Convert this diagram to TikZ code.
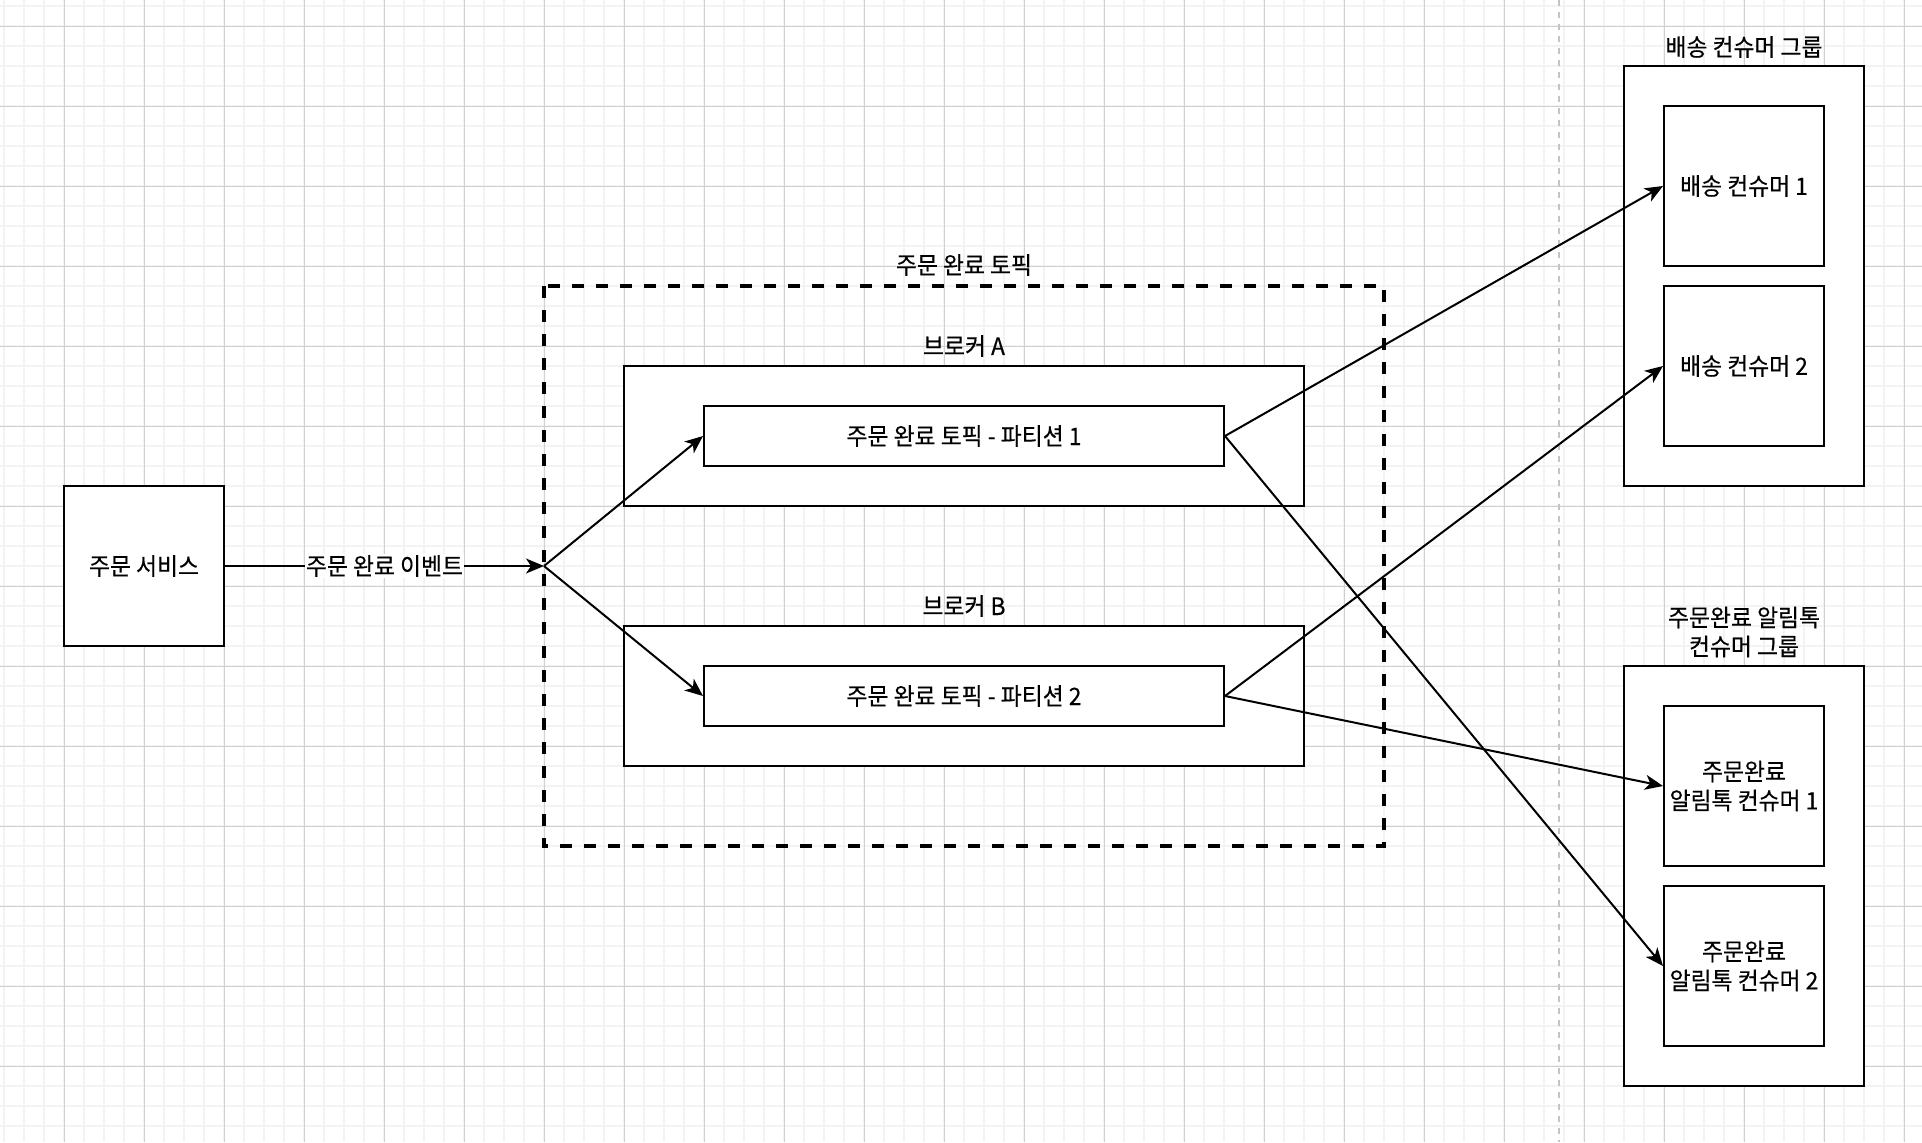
\documentclass[tikz,border=0pt]{standalone}
\usepackage{fontspec}
\setmainfont{Noto Sans CJK KR}[FakeStretch=0.95, FakeBold=0.35]
\usetikzlibrary{arrows.meta}
\definecolor{minorgrid}{HTML}{F3F3F3}
\definecolor{majorgrid}{HTML}{D0D0D0}
\definecolor{sepline}{HTML}{C4C4C4}
\tikzset{
  box/.style={draw=black, line width=1pt, fill=white, inner sep=0pt, align=center, font=\fontsize{12}{14.5}\selectfont},
  lbl/.style={inner sep=0pt, align=center, font=\fontsize{12}{14.5}\selectfont},
  topicbox/.style={draw=black, line width=2pt, dash pattern=on 6pt off 6pt},
  conn/.style={draw=black, line width=1pt, -{Stealth[length=9pt, width=7.5pt, inset=2.5pt]}},
  plain/.style={draw=black, line width=1pt},
}
\begin{document}
\begin{tikzpicture}[x=1pt, y=-1pt]
\useasboundingbox (0,0) rectangle (961,571);
\fill[white] (0,0) rectangle (961,571);
% grid
\foreach \gx in {2,12,...,962} \draw[minorgrid, line width=1pt] (\gx,0) -- (\gx,571);
\foreach \gy in {3,13,...,573} \draw[minorgrid, line width=1pt] (0,\gy) -- (961,\gy);
\foreach \gx in {32,72,...,952} \draw[majorgrid, line width=0.5pt] (\gx,0) -- (\gx,571);
\foreach \gy in {13,53,...,573} \draw[majorgrid, line width=0.5pt] (0,\gy) -- (961,\gy);
% separator
\coordinate (septop) at (779.5,0);
\coordinate (sepbot) at (779.5,571);
\draw[sepline, line width=1pt, dash pattern=on 3pt off 3pt] (septop) -- (sepbot);

% order service
\node[box, minimum width=80pt, minimum height=80pt] (svc) at (72,283) {주문 서비스};

% topic dashed box
\draw[topicbox] (272,143) rectangle (692,423);
\node[lbl] (topiclbl) at (482,132.5) {주문 완료 토픽};
\coordinate (junction) at (272,283);

% brokers
\node[box, minimum width=340pt, minimum height=70pt] (brokerA) at (482,218) {};
\node[lbl] (brokerAlbl) at (482,173) {브로커 A};
\node[box, minimum width=260pt, minimum height=30pt] (part1) at (482,218) {주문 완료 토픽 - 파티션 1};

\node[box, minimum width=340pt, minimum height=70pt] (brokerB) at (482,348) {};
\node[lbl] (brokerBlbl) at (482,303) {브로커 B};
\node[box, minimum width=260pt, minimum height=30pt] (part2) at (482,348) {주문 완료 토픽 - 파티션 2};

% delivery consumer group
\node[box, minimum width=120pt, minimum height=210pt] (grp1) at (872,138) {};
\node[lbl] (grp1lbl) at (872,23.5) {배송 컨슈머 그룹};
\node[box, minimum width=80pt, minimum height=80pt] (dc1) at (872,93) {배송 컨슈머 1};
\node[box, minimum width=80pt, minimum height=80pt] (dc2) at (872,183) {배송 컨슈머 2};

% notification consumer group
\node[box, minimum width=120pt, minimum height=210pt] (grp2) at (872,438) {};
\node[lbl] (grp2lbl) at (872,316) {주문완료 알림톡\\컨슈머 그룹};
\node[box, minimum width=80pt, minimum height=80pt] (nc1) at (872,393) {주문완료\\알림톡 컨슈머 1};
\node[box, minimum width=80pt, minimum height=80pt] (nc2) at (872,483) {주문완료\\알림톡 컨슈머 2};

% connectors
\draw[conn] (svc.east) -- node[lbl, fill=white, inner sep=0.5pt] (evlbl) {주문 완료 이벤트} (junction);
\draw[conn] (junction) -- (part1.west);
\draw[conn] (junction) -- (part2.west);
\draw[conn] (part1.east) -- (dc1.west);
\draw[conn] (part2.east) -- (dc2.west);
\draw[conn] (part2.east) -- (nc1.west);
\draw[conn] (part1.east) -- (nc2.west);
\end{tikzpicture}
\end{document}
